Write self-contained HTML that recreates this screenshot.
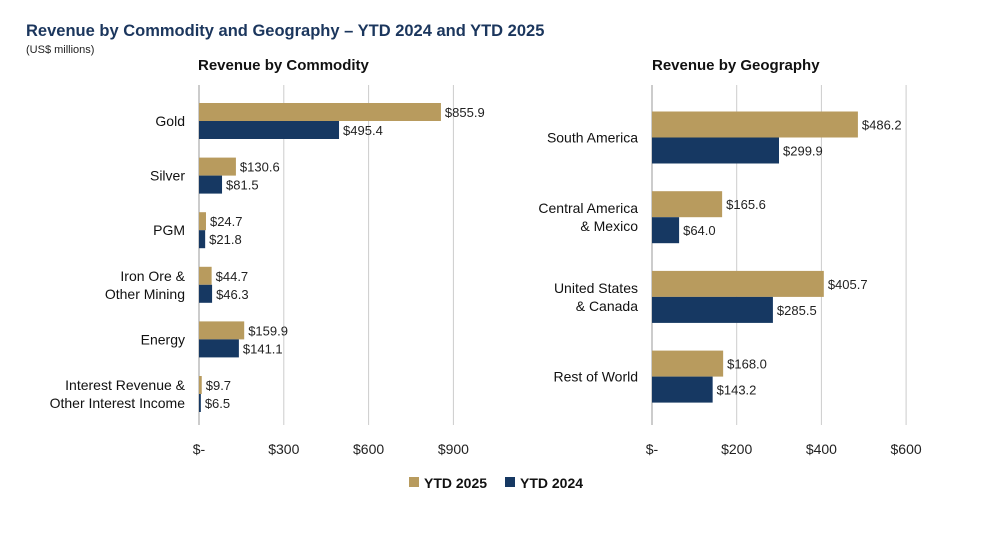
<!DOCTYPE html>
<html><head><meta charset="utf-8"><style>
body{margin:0;background:#fff;width:991px;height:529px;overflow:hidden;font-family:"Liberation Sans",sans-serif}
svg text{font-family:"Liberation Sans",sans-serif}
</style></head><body>
<svg id="c" width="991" height="529">
<text x="26" y="36" font-size="16.5" font-weight="bold" fill="#1b365d">Revenue by Commodity and Geography – YTD 2024 and YTD 2025</text>
<text x="26" y="53" font-size="11" fill="#222">(US$ millions)</text>
<text x="198" y="70" font-size="15" font-weight="bold" fill="#111">Revenue by Commodity</text>
<text x="652" y="70" font-size="15" font-weight="bold" fill="#111">Revenue by Geography</text>
<g id="L"></g><g id="R"></g>
<rect x="409" y="477" width="10" height="10" fill="#b89b5e"/>
<text x="424" y="488" font-size="14" font-weight="bold" fill="#111">YTD 2025</text>
<rect x="505" y="477" width="10" height="10" fill="#163862"/>
<text x="520" y="488" font-size="14" font-weight="bold" fill="#111">YTD 2024</text>
</svg>
<script>
const commodityCats=[["Gold"],["Silver"],["PGM"],["Iron Ore &","Other Mining"],["Energy"],["Interest Revenue &","Other Interest Income"]];
const commodity2025=[855.9,130.6,24.7,44.7,159.9,9.7];
const commodity2024=[495.4,81.5,21.8,46.3,141.1,6.5];
const commodityTicks=[0,300,600,900];
const geoCats=[["South America"],["Central America","& Mexico"],["United States","& Canada"],["Rest of World"]];
const geo2025=[486.2,165.6,405.7,168.0];
const geo2024=[299.9,64.0,285.5,143.2];
const geoTicks=[0,200,400,600];
const NS="http://www.w3.org/2000/svg";
function mk(g,t,a,txt){const e=document.createElementNS(NS,t);for(const k in a)e.setAttribute(k,a[k]);if(txt!=null)e.textContent=txt;g.appendChild(e);return e;}
function panel(gid,cats,s1,s2,ticks,o){
 const g=document.getElementById(gid);
 const x=v=>o.x0+v*o.pxPer;
 ticks.forEach(t=>{
  const l=mk(g,'line',{x1:x(t),x2:x(t),y1:85,y2:425,stroke:t===0?'#999':'#ccc','stroke-width':1});
  
  
  const tx=mk(g,'text',{x:x(t),y:454,'font-size':14,'text-anchor':'middle',fill:'#222'},t===0?'$-':'$'+t);
  
  
 });
 cats.forEach((c,i)=>{
  const cy=o.y0+i*o.step;
  const lab=mk(g,'text',{x:o.x0-14,'font-size':14,'text-anchor':'end',fill:'#111'});
  
  
  c.forEach((line,j)=>{mk(lab,'tspan',{x:o.x0-14,y:cy+5+(j-(c.length-1)/2)*18},line);});
  [[s1[i],'#b89b5e',cy-o.bh,'bar-2025'],[s2[i],'#163862',cy,'bar-2024']].forEach(([v,col,y,n])=>{
   const r=mk(g,'rect',{x:x(0),y:y,width:Math.max(0,x(v)-x(0)),height:o.bh,fill:col});
   
   
   const t=mk(g,'text',{x:x(v)+4,y:y+o.bh/2+5,'font-size':13,fill:'#222'},'$'+v.toFixed(1));
   
   
  });
 });
}
panel('L',commodityCats,commodity2025,commodity2024,commodityTicks,{x0:199,pxPer:84.8/300,y0:121,step:54.6,bh:18});
panel('R',geoCats,geo2025,geo2024,geoTicks,{x0:652,pxPer:84.7/200,y0:137.5,step:79.7,bh:26});
</script>
</body></html>
